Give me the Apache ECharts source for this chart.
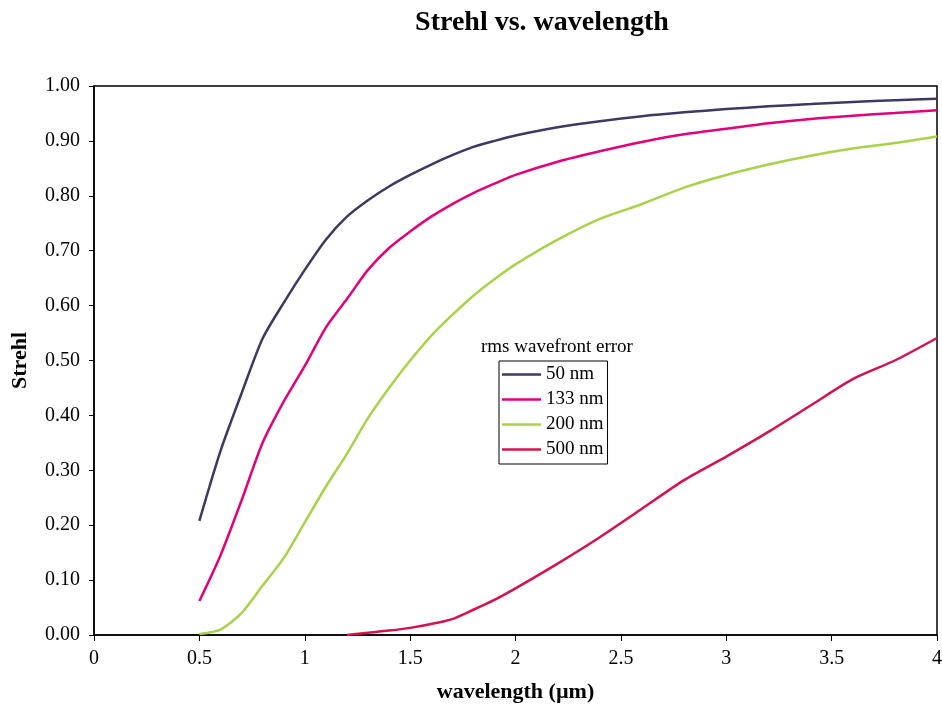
<!DOCTYPE html>
<html><head><meta charset="utf-8">
<script src="https://cdn.jsdelivr.net/npm/echarts@6/dist/echarts.min.js"></script>
<style>html,body{margin:0;padding:0;background:#fff}#c{width:942px;height:707px}</style>
</head><body><div id="c"></div>
<script>
const wavelengths = [0.5,0.6,0.7,0.8,0.9,1.0,1.1,1.2,1.3,1.4,1.5,1.6,1.7,1.8,1.9,2.0,2.2,2.4,2.6,2.8,3.0,3.2,3.4,3.6,3.8,4.0];
const s50  = [0.208,0.335,0.44,0.54,0.605,0.665,0.72,0.762,0.792,0.817,0.838,0.857,0.874,0.889,0.900,0.910,0.925,0.936,0.945,0.952,0.958,0.963,0.967,0.971,0.974,0.977];
const s133 = [0.062,0.145,0.245,0.35,0.425,0.49,0.56,0.612,0.665,0.705,0.735,0.762,0.785,0.805,0.822,0.838,0.862,0.881,0.898,0.912,0.922,0.932,0.940,0.946,0.951,0.956];
const s200 = [0.002,0.01,0.04,0.09,0.14,0.205,0.27,0.33,0.395,0.45,0.50,0.545,0.583,0.618,0.648,0.675,0.72,0.758,0.785,0.815,0.838,0.857,0.873,0.886,0.896,0.908];
const s500 = [null,null,null,null,null,null,null,0.0,0.004,0.008,0.013,0.02,0.029,0.046,0.064,0.085,0.13,0.178,0.23,0.282,0.325,0.37,0.418,0.466,0.50,0.541];
const seriesNames = ['50 nm','133 nm','200 nm','500 nm'];
const seriesColors = ['#3d3963','#e3007b','#a8d24a','#d5124f'];
const seriesData = [s50,s133,s200,s500];

const font = '"Liberation Serif","Times New Roman",serif';
const chart = echarts.init(document.getElementById('c'));
chart.setOption({
  animation:false,
  backgroundColor:'#fff',
  title:{text:'Strehl vs. wavelength',left:537,top:4,textAlign:'center',
    textStyle:{fontFamily:font,fontSize:28,fontWeight:'bold',color:'#000'}},
  grid:{left:94,right:5,top:86,bottom:72,containLabel:false,outerBoundsMode:'none',
    show:true,borderColor:'#000',borderWidth:1.5,backgroundColor:'transparent'},
  xAxis:{type:'value',min:0,max:4,interval:0.5,
    name:'wavelength (µm)',nameLocation:'middle',nameGap:46,
    nameTextStyle:{fontFamily:font,fontSize:22,fontWeight:'bold',color:'#000'},
    axisLine:{lineStyle:{color:'#000',width:1.5}},
    axisTick:{show:true,length:6,lineStyle:{color:'#000'}},
    axisLabel:{fontFamily:font,fontSize:20,color:'#000',margin:14},
    splitLine:{show:false}},
  yAxis:{type:'value',min:0,max:1,interval:0.1,
    name:'Strehl',nameLocation:'middle',nameGap:63,
    nameTextStyle:{fontFamily:font,fontSize:22,fontWeight:'bold',color:'#000'},
    axisLine:{show:true,lineStyle:{color:'#000',width:1.5}},
    axisTick:{show:true,length:5,lineStyle:{color:'#000'}},
    axisLabel:{fontFamily:font,fontSize:20,color:'#000',margin:14,formatter:v=>v.toFixed(2)},
    splitLine:{show:false}},
  legend:{orient:'vertical',left:499,top:361,padding:[4,4,5,3],itemGap:6,
    borderColor:'#000',borderWidth:1,backgroundColor:'#fff',
    icon:'rect',itemWidth:39,itemHeight:2.5,
    data:seriesNames,
    textStyle:{fontFamily:font,fontSize:19,color:'#000',padding:[0,0,0,0]}},
  graphic:[{type:'text',left:481,top:338,style:{text:'rms wavefront error',font:'19px '+font,fill:'#000'}}],
  series:seriesNames.map((n,i)=>({
    name:n,type:'line',symbol:'none',smooth:0.25,
    lineStyle:{color:seriesColors[i],width:2.5},itemStyle:{color:seriesColors[i]},
    data:wavelengths.map((w,j)=>[w,seriesData[i][j]])
  }))
});
</script></body></html>
